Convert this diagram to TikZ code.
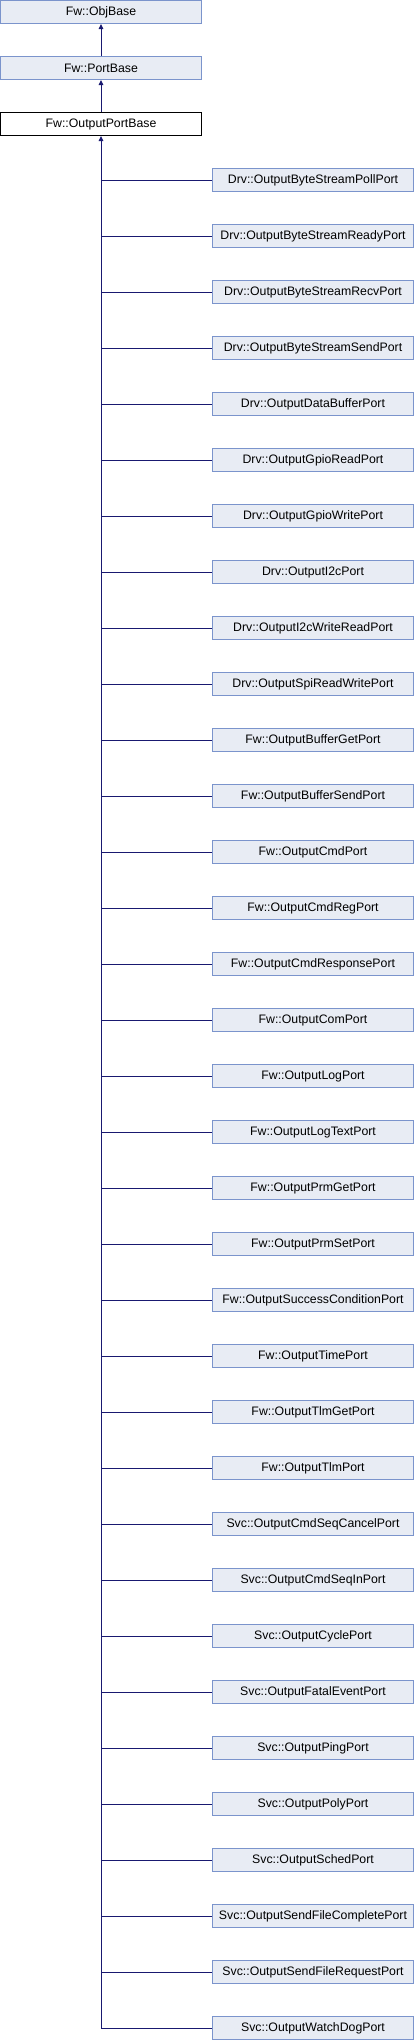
\documentclass[tikz,border=0pt]{standalone}
\usepackage{fontspec}
\setmainfont{Liberation Sans}
\usetikzlibrary{arrows.meta}
\definecolor{boxfill}{HTML}{E8ECF4}
\definecolor{boxline}{HTML}{7B94CC}
\definecolor{edgeblue}{HTML}{191970}
\tikzset{
  classbox/.style={draw=boxline, fill=boxfill, line width=1pt, minimum width=201pt,
    minimum height=23pt, inner sep=0pt, font=\fontsize{12.3}{14}\selectfont},
  curbox/.style={classbox, draw=black, fill=white},
  inherit/.style={draw=edgeblue, line width=1pt},
  inheritarrow/.style={inherit, -{Triangle[length=5pt,width=4.5pt]}}
}
\begin{document}
\begin{tikzpicture}[x=1pt,y=-1pt]
\useasboundingbox (0,0) rectangle (414,2040);
\node[classbox] (objbase) at (101,12) {Fw::ObjBase};
\node[classbox] (portbase) at (101,68) {Fw::PortBase};
\node[curbox] (outbase) at (101,124) {Fw::OutputPortBase};
\draw[inheritarrow] (portbase) -- (objbase);
\draw[inheritarrow] (outbase) -- (portbase);
% derived ports
\foreach \name [count=\i] in {Drv::OutputByteStreamPollPort,Drv::OutputByteStreamReadyPort,
  Drv::OutputByteStreamRecvPort,Drv::OutputByteStreamSendPort,Drv::OutputDataBufferPort,
  Drv::OutputGpioReadPort,Drv::OutputGpioWritePort,Drv::OutputI2cPort,
  Drv::OutputI2cWriteReadPort,Drv::OutputSpiReadWritePort,Fw::OutputBufferGetPort,
  Fw::OutputBufferSendPort,Fw::OutputCmdPort,Fw::OutputCmdRegPort,Fw::OutputCmdResponsePort,
  Fw::OutputComPort,Fw::OutputLogPort,Fw::OutputLogTextPort,Fw::OutputPrmGetPort,
  Fw::OutputPrmSetPort,Fw::OutputSuccessConditionPort,Fw::OutputTimePort,Fw::OutputTlmGetPort,
  Fw::OutputTlmPort,Svc::OutputCmdSeqCancelPort,Svc::OutputCmdSeqInPort,Svc::OutputCyclePort,
  Svc::OutputFatalEventPort,Svc::OutputPingPort,Svc::OutputPolyPort,Svc::OutputSchedPort,
  Svc::OutputSendFileCompletePort,Svc::OutputSendFileRequestPort,Svc::OutputWatchDogPort}
{
  \node[classbox] (port\i) at (313,124+56*\i) {\name};
  \draw[inherit] (port\i.west) -- (outbase.south |- port\i.west);
}
\coordinate (trunkend) at (outbase.south |- port34.west);
\draw[inheritarrow] (trunkend) -- (outbase.south);
\end{tikzpicture}
\end{document}
